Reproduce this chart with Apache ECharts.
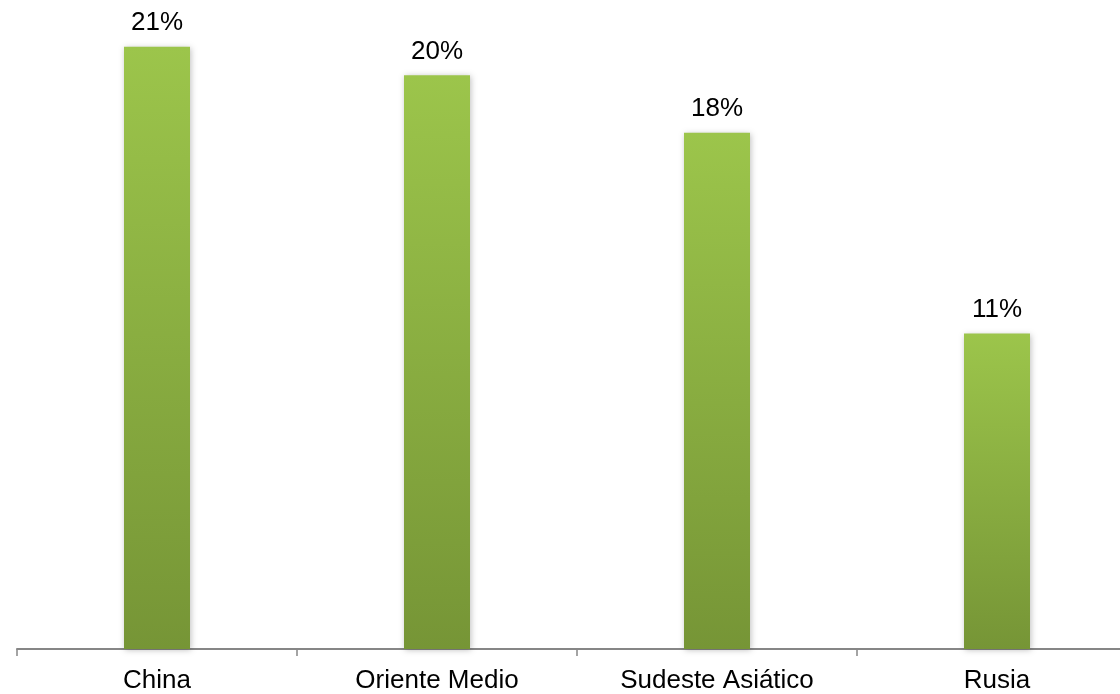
<!DOCTYPE html>
<html>
<head>
<meta charset="utf-8">
<script src="https://cdn.jsdelivr.net/npm/echarts@6/dist/echarts.min.js"></script>
<style>
  html, body { margin: 0; padding: 0; background: #ffffff; overflow: hidden; }
  #wrap { width: 1120px; height: 694px; overflow: hidden; }
  /* the plot runs past the right edge, so the last category is cut off */
  #chart { width: 1137px; height: 694px; }
</style>
</head>
<body>
<div id="wrap"><div id="chart"></div></div>
<script>
// Regions and their share (percent)
const categories = ['China', 'Oriente Medio', 'Sudeste Asiático', 'Rusia'];
const shares = [21, 20, 18, 11];

const chart = echarts.init(document.getElementById('chart'));
chart.setOption({
  animation: false,
  grid: { left: 17, right: 0, top: 18, bottom: 45, containLabel: false },
  xAxis: {
    type: 'category',
    data: categories,
    axisLine: { show: true, lineStyle: { color: '#868686', width: 2 } },
    axisTick: { show: true, length: 7, lineStyle: { color: '#868686', width: 1.5 } },
    axisLabel: {
      color: '#000000',
      fontFamily: 'Liberation Sans, Arial, sans-serif',
      fontSize: 26,
      margin: 19
    }
  },
  yAxis: {
    type: 'value',
    min: 0,
    max: 22,
    show: false,
    splitLine: { show: false }
  },
  series: [{
    type: 'bar',
    data: shares,
    barWidth: 66,
    itemStyle: {
      color: new echarts.graphic.LinearGradient(0, 0, 0, 1, [
        { offset: 0, color: '#9cc54b' },
        { offset: 1, color: '#769536' }
      ]),
      shadowColor: 'rgba(0,0,0,0.25)',
      shadowBlur: 6,
      shadowOffsetX: 1,
      shadowOffsetY: 1
    },
    label: {
      show: true,
      position: 'top',
      distance: 11,
      color: '#000000',
      fontFamily: 'Liberation Sans, Arial, sans-serif',
      fontSize: 26,
      formatter: p => p.value + '%'
    }
  }]
});
</script>
</body>
</html>
